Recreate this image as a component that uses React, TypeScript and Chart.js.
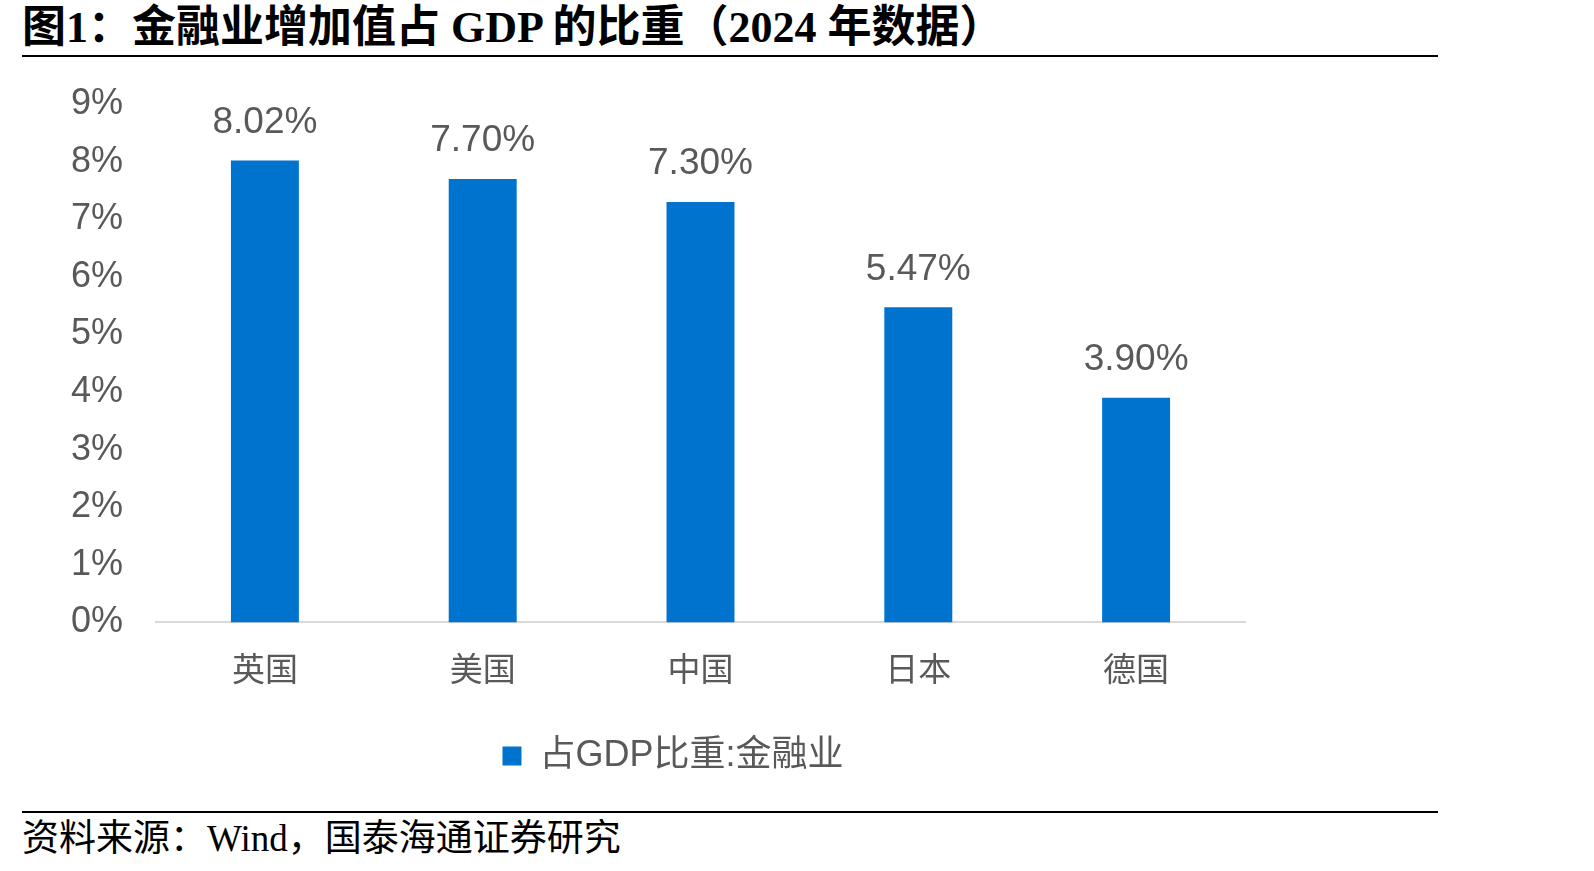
import React, { useEffect, useRef } from "react";
import { Chart, registerables } from "chart.js";

Chart.register(...registerables);

const categories = ["英国", "美国", "中国", "日本", "德国"];
const shareValues = [8.02, 7.7, 7.3, 5.47, 3.9];
const valueLabels = ["8.02%", "7.70%", "7.30%", "5.47%", "3.90%"];
const seriesName = "占GDP比重:金融业";
const titleText = "图1：金融业增加值占 GDP 的比重（2024 年数据）";
const sourceText = "资料来源：Wind，国泰海通证券研究";

const SANS = "'Liberation Sans', Arial, 'Noto Sans CJK SC', sans-serif";
const SERIF = "'Liberation Serif', 'Times New Roman', 'Noto Sans CJK SC', serif";
const GRAY = "#595959";
const BAR = "#0073CF";
const LEGEND_CENTER_X = 673;

const dataLabelPlugin = {
  id: "dataLabels",
  afterDatasetsDraw(chart: any) {
    const ctx = chart.ctx;
    const meta = chart.getDatasetMeta(0);
    ctx.save();
    ctx.font = `37px ${SANS}`;
    ctx.fillStyle = GRAY;
    ctx.textAlign = "center";
    ctx.textBaseline = "middle";
    meta.data.forEach((bar: any, i: number) => {
      ctx.fillText(valueLabels[i], bar.x, bar.y - 38);
    });
    ctx.restore();
  },
};

const legendShiftPlugin = {
  id: "legendShift",
  afterLayout(chart: any) {
    const lg = chart.legend;
    if (!lg) return;
    const dx = LEGEND_CENTER_X - (lg.left + lg.right) / 2;
    lg.left += dx;
    lg.right += dx;
  },
};

export default function App() {
  const ref = useRef<HTMLCanvasElement>(null);
  useEffect(() => {
    if (!ref.current) return;
    const chart = new Chart(ref.current, {
      type: "bar",
      data: {
        labels: categories,
        datasets: [
          {
            label: seriesName,
            data: shareValues,
            backgroundColor: BAR,
            borderWidth: 0,
            barPercentage: 0.312,
            categoryPercentage: 1,
          },
        ],
      },
      plugins: [dataLabelPlugin, legendShiftPlugin],
      options: {
        animation: false,
        responsive: false,
        maintainAspectRatio: false,
        layout: { padding: { top: 44, bottom: 0, left: 71, right: 97 } },
        plugins: {
          tooltip: { enabled: false },
          legend: {
            position: "bottom",
            labels: {
              boxWidth: 19,
              boxHeight: 19,
              padding: 16,
              color: GRAY,
              font: { size: 36, family: SANS },
            },
          },
        },
        scales: {
          x: {
            grid: { display: false, drawTicks: false },
            border: { display: true, color: "#d9d9d9", width: 2 },
            ticks: {
              color: GRAY,
              padding: 30,
              maxRotation: 0,
              autoSkip: false,
              font: { size: 33, family: SERIF },
            },
          },
          y: {
            min: 0,
            max: 9,
            grid: { display: false, drawTicks: false },
            border: { display: false },
            afterFit: (axis: any) => {
              axis.width = 85;
            },
            ticks: {
              stepSize: 1,
              padding: 0,
              crossAlign: "far",
              color: GRAY,
              font: { size: 36, family: SANS },
              callback: (v: any) => `${v}%`,
            },
          },
        },
      },
    });
    return () => chart.destroy();
  }, []);

  return (
    <div
      style={{
        position: "absolute",
        left: 0,
        top: 0,
        width: 1594,
        height: 871,
        background: "#fff",
        overflow: "hidden",
      }}
    >
      <div
        style={{
          position: "absolute",
          left: 22,
          top: 3,
          height: 50,
          lineHeight: "50px",
          fontSize: 44,
          fontWeight: "bold",
          fontFamily: SERIF,
          color: "#000",
          whiteSpace: "nowrap",
        }}
      >
        {titleText}
      </div>
      <div style={{ position: "absolute", left: 22, top: 55, width: 1416, height: 2, background: "#000" }} />
      <canvas
        ref={ref}
        width={1342}
        height={724}
        style={{ position: "absolute", left: 0, top: 60, width: 1342, height: 724 }}
      />
      <div style={{ position: "absolute", left: 22, top: 811, width: 1416, height: 2, background: "#000" }} />
      <div
        style={{
          position: "absolute",
          left: 22,
          top: 818,
          height: 42,
          lineHeight: "42px",
          fontSize: 37,
          fontFamily: SERIF,
          color: "#000",
          whiteSpace: "nowrap",
        }}
      >
        {sourceText}
      </div>
    </div>
  );
}
